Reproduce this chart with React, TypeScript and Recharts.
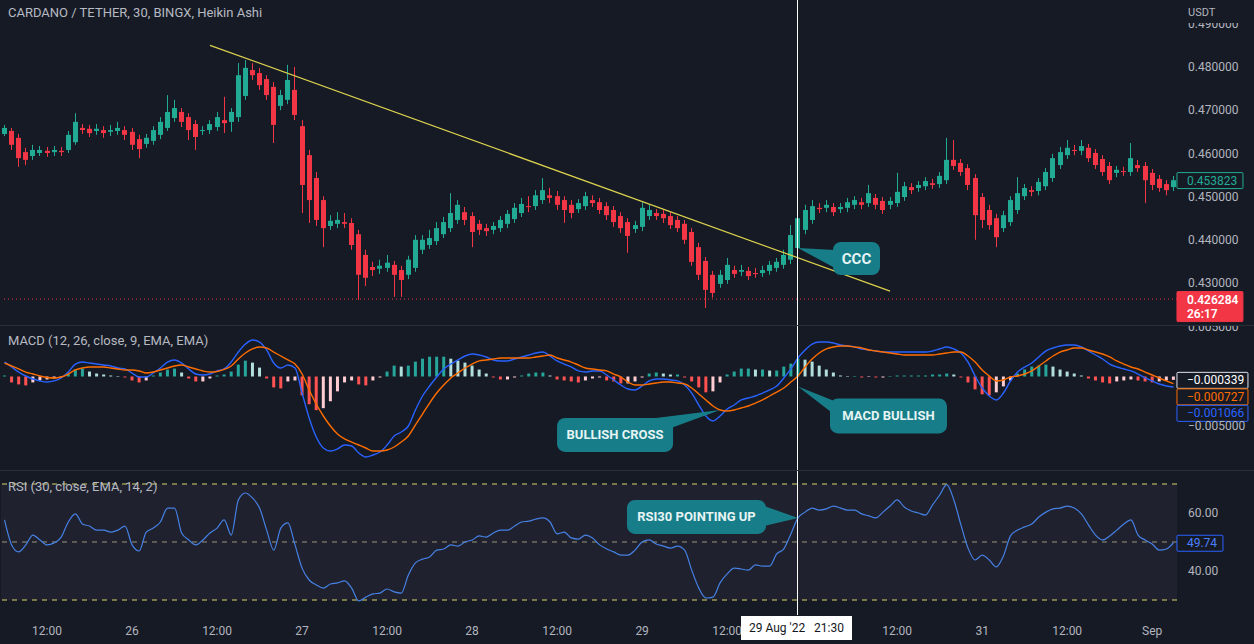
import React from "react";
import {
  Bar,
  Cell,
  ComposedChart,
  Line,
  ReferenceArea,
  ReferenceDot,
  ReferenceLine,
  XAxis,
  YAxis,
} from "recharts";

// hourly Heikin Ashi candles, first one is 18h before 26 Aug 00:00
const firstHour = -18;

const haOpen = [
  0.4645, 0.4652, 0.4636, 0.4603, 0.4594, 0.4601, 0.4606, 0.4603, 0.4606, 0.4608, 0.4626, 0.4659, 0.4657, 0.4652, 0.4654, 0.4650, 0.4652, 0.4654,
  0.4650, 0.4633, 0.4622, 0.4629, 0.4643, 0.4659, 0.4682, 0.4696, 0.4684, 0.4668, 0.4652, 0.4654, 0.4661, 0.4677, 0.4673, 0.4684, 0.4733, 0.4793, 0.4786, 0.4772, 0.4754, 0.4710, 0.4724, 0.4747,
  0.4663, 0.4596, 0.4543, 0.4492, 0.4432, 0.4437, 0.4441, 0.4439, 0.4413, 0.4365, 0.4337, 0.4333, 0.4335, 0.4342, 0.4330, 0.4319, 0.4335, 0.4377, 0.4388, 0.4397, 0.4413, 0.4427, 0.4446, 0.4464,
  0.4455, 0.4437, 0.4427, 0.4423, 0.4427, 0.4437, 0.4448, 0.4462, 0.4478, 0.4478, 0.4492, 0.4503, 0.4501, 0.4492, 0.4481, 0.4471, 0.4478, 0.4492, 0.4487, 0.4478, 0.4469, 0.4455, 0.4441, 0.4425,
  0.4430, 0.4455, 0.4462, 0.4460, 0.4455, 0.4446, 0.4437, 0.4418, 0.4383, 0.4351, 0.4319, 0.4298, 0.4307, 0.4330, 0.4326, 0.4328, 0.4323, 0.4323, 0.4328, 0.4335, 0.4342, 0.4354, 0.4381, 0.4423,
  0.4446, 0.4474, 0.4474, 0.4476, 0.4471, 0.4474, 0.4481, 0.4487, 0.4485, 0.4497, 0.4490, 0.4481, 0.4485, 0.4499, 0.4522, 0.4520, 0.4524, 0.4531, 0.4529, 0.4538, 0.4585, 0.4578, 0.4566, 0.4543,
  0.4499, 0.4469, 0.4450, 0.4427, 0.4441, 0.4469, 0.4501, 0.4515, 0.4513, 0.4524, 0.4543, 0.4573, 0.4596, 0.4608, 0.4606, 0.4613, 0.4601, 0.4587, 0.4571, 0.4555, 0.4559, 0.4557, 0.4573, 0.4571,
  0.4555, 0.4541, 0.4529, 0.4522,
];
const haHigh = [
  0.4666, 0.4659, 0.4645, 0.4613, 0.4620, 0.4617, 0.4615, 0.4617, 0.4615, 0.4652, 0.4693, 0.4668, 0.4666, 0.4668, 0.4663, 0.4666, 0.4673, 0.4663,
  0.4659, 0.4643, 0.4645, 0.4663, 0.4684, 0.4735, 0.4724, 0.4705, 0.4693, 0.4677, 0.4663, 0.4677, 0.4696, 0.4731, 0.4705, 0.4809, 0.4816, 0.4809, 0.4798, 0.4781, 0.4765, 0.4747, 0.4805, 0.4800,
  0.4677, 0.4608, 0.4557, 0.4501, 0.4457, 0.4464, 0.4462, 0.4450, 0.4423, 0.4377, 0.4349, 0.4354, 0.4365, 0.4351, 0.4340, 0.4363, 0.4411, 0.4411, 0.4423, 0.4441, 0.4453, 0.4508, 0.4492, 0.4476,
  0.4464, 0.4446, 0.4437, 0.4441, 0.4455, 0.4469, 0.4485, 0.4497, 0.4501, 0.4515, 0.4543, 0.4520, 0.4513, 0.4501, 0.4492, 0.4494, 0.4511, 0.4503, 0.4497, 0.4487, 0.4478, 0.4464, 0.4450, 0.4444,
  0.4487, 0.4481, 0.4471, 0.4469, 0.4464, 0.4455, 0.4446, 0.4427, 0.4393, 0.4360, 0.4328, 0.4330, 0.4358, 0.4340, 0.4342, 0.4337, 0.4335, 0.4340, 0.4351, 0.4358, 0.4377, 0.4434, 0.4487, 0.4481,
  0.4492, 0.4485, 0.4492, 0.4485, 0.4485, 0.4497, 0.4501, 0.4497, 0.4527, 0.4506, 0.4499, 0.4499, 0.4555, 0.4534, 0.4531, 0.4536, 0.4545, 0.4541, 0.4557, 0.4636, 0.4631, 0.4587, 0.4575, 0.4552,
  0.4508, 0.4481, 0.4460, 0.4467, 0.4501, 0.4545, 0.4529, 0.4524, 0.4543, 0.4566, 0.4599, 0.4615, 0.4631, 0.4620, 0.4631, 0.4622, 0.4610, 0.4596, 0.4580, 0.4571, 0.4569, 0.4624, 0.4585, 0.4580,
  0.4564, 0.4550, 0.4538, 0.4548,
];
const haLow = [
  0.4640, 0.4608, 0.4569, 0.4573, 0.4585, 0.4594, 0.4592, 0.4594, 0.4594, 0.4601, 0.4620, 0.4645, 0.4638, 0.4643, 0.4636, 0.4640, 0.4643, 0.4631,
  0.4608, 0.4589, 0.4613, 0.4620, 0.4633, 0.4652, 0.4673, 0.4661, 0.4631, 0.4608, 0.4643, 0.4645, 0.4652, 0.4647, 0.4650, 0.4673, 0.4724, 0.4770, 0.4747, 0.4724, 0.4624, 0.4700, 0.4714, 0.4677,
  0.4462, 0.4439, 0.4432, 0.4383, 0.4423, 0.4427, 0.4427, 0.4377, 0.4261, 0.4293, 0.4316, 0.4321, 0.4326, 0.4268, 0.4268, 0.4309, 0.4326, 0.4367, 0.4379, 0.4388, 0.4404, 0.4418, 0.4437, 0.4434,
  0.4383, 0.4411, 0.4409, 0.4413, 0.4418, 0.4427, 0.4439, 0.4453, 0.4464, 0.4469, 0.4483, 0.4485, 0.4469, 0.4439, 0.4450, 0.4462, 0.4469, 0.4476, 0.4460, 0.4446, 0.4430, 0.4416, 0.4370, 0.4416,
  0.4420, 0.4446, 0.4446, 0.4439, 0.4425, 0.4418, 0.4390, 0.4340, 0.4307, 0.4242, 0.4266, 0.4289, 0.4298, 0.4312, 0.4316, 0.4307, 0.4312, 0.4314, 0.4319, 0.4326, 0.4333, 0.4344, 0.4372, 0.4413,
  0.4437, 0.4462, 0.4464, 0.4455, 0.4462, 0.4464, 0.4471, 0.4471, 0.4476, 0.4471, 0.4460, 0.4471, 0.4476, 0.4490, 0.4506, 0.4511, 0.4515, 0.4518, 0.4520, 0.4529, 0.4562, 0.4548, 0.4515, 0.4400,
  0.4427, 0.4423, 0.4383, 0.4418, 0.4432, 0.4460, 0.4492, 0.4501, 0.4503, 0.4515, 0.4534, 0.4564, 0.4587, 0.4596, 0.4596, 0.4580, 0.4564, 0.4548, 0.4529, 0.4545, 0.4548, 0.4548, 0.4557, 0.4485,
  0.4515, 0.4511, 0.4503, 0.4513,
];
const haClose = [
  0.4659, 0.4620, 0.4589, 0.4585, 0.4608, 0.4608, 0.4601, 0.4608, 0.4603, 0.4643, 0.4673, 0.4654, 0.4647, 0.4657, 0.4647, 0.4654, 0.4659, 0.4643,
  0.4620, 0.4610, 0.4636, 0.4654, 0.4673, 0.4696, 0.4705, 0.4673, 0.4654, 0.4638, 0.4654, 0.4668, 0.4684, 0.4670, 0.4696, 0.4781, 0.4798, 0.4781, 0.4758, 0.4735, 0.4666, 0.4735, 0.4770, 0.4689,
  0.4527, 0.4492, 0.4446, 0.4427, 0.4444, 0.4446, 0.4437, 0.4388, 0.4319, 0.4312, 0.4330, 0.4340, 0.4347, 0.4319, 0.4307, 0.4354, 0.4400, 0.4400, 0.4404, 0.4427, 0.4441, 0.4462, 0.4481, 0.4446,
  0.4418, 0.4423, 0.4420, 0.4432, 0.4446, 0.4460, 0.4474, 0.4483, 0.4476, 0.4503, 0.4515, 0.4497, 0.4481, 0.4469, 0.4462, 0.4485, 0.4501, 0.4485, 0.4469, 0.4457, 0.4441, 0.4427, 0.4409, 0.4434,
  0.4474, 0.4469, 0.4455, 0.4450, 0.4434, 0.4427, 0.4400, 0.4349, 0.4319, 0.4284, 0.4277, 0.4319, 0.4342, 0.4321, 0.4330, 0.4316, 0.4321, 0.4330, 0.4342, 0.4349, 0.4365, 0.4411, 0.4450, 0.4469,
  0.4478, 0.4471, 0.4481, 0.4464, 0.4476, 0.4487, 0.4492, 0.4481, 0.4508, 0.4481, 0.4469, 0.4490, 0.4511, 0.4524, 0.4515, 0.4527, 0.4536, 0.4527, 0.4548, 0.4585, 0.4571, 0.4557, 0.4527, 0.4457,
  0.4446, 0.4434, 0.4406, 0.4457, 0.4492, 0.4508, 0.4520, 0.4511, 0.4534, 0.4557, 0.4589, 0.4603, 0.4613, 0.4606, 0.4617, 0.4589, 0.4573, 0.4557, 0.4538, 0.4562, 0.4557, 0.4589, 0.4566, 0.4538,
  0.4527, 0.4520, 0.4515, 0.4538,
];

// MACD pane, values in units of 0.0001
const macdLine = [
  14.6, 9.6, 4.5, 0.5, -2.5, -4.5, -5.6, -4.5, -1.5, 4.5, 12.6, 14.6, 13.6, 12.6, 11.6, 10.6, 8.6, 7.6,
  3.5, -0.5, -0.5, 3.5, 8.6, 14.6, 16.7, 13.6, 7.6, 2.5, 1.5, 2.5, 5.6, 7.6, 14.6, 24.7, 32.8, 36.9, 34.8, 26.8, 13.6, 8.6, 11.6, 8.6,
  -16.7, -41.9, -61.1, -72.2, -75.3, -73.2, -69.2, -70.2, -77.3, -81.3, -79.3, -76.3, -69.2, -60.1, -56.1, -50.0, -33.8, -19.7, -9.6, -0.5, 7.6, 12.6, 16.7, 20.7,
  22.7, 21.7, 19.7, 16.7, 15.7, 15.7, 17.7, 19.7, 21.7, 23.7, 24.7, 20.7, 15.7, 12.6, 9.6, 5.6, 4.5, 5.6, 5.6, 1.5, -3.5, -8.6, -12.6, -13.6,
  -9.6, -4.5, -2.5, -2.5, -3.5, -4.5, -8.6, -16.7, -28.8, -39.9, -44.9, -39.9, -32.8, -28.8, -23.7, -21.7, -19.7, -16.7, -13.6, -9.6, -1.5, 7.6, 18.7, 26.8,
  32.8, 34.8, 34.8, 33.8, 31.8, 30.8, 29.8, 27.8, 26.8, 25.8, 24.7, 24.7, 24.7, 24.7, 24.7, 24.7, 24.7, 25.8, 27.8, 29.8, 27.8, 23.7, 14.6, 0.5,
  -11.6, -19.7, -23.7, -16.7, -4.5, 4.5, 9.6, 13.6, 19.7, 25.8, 28.8, 30.8, 31.8, 31.8, 29.8, 25.8, 21.7, 17.7, 12.6, 9.6, 7.6, 5.6, 2.5, -1.5,
  -4.5, -7.6, -9.6, -10.66,
];
const signalLine = [
  13.6, 10.6, 7.6, 4.5, 2.5, 0.5, -1.0, -1.5, -0.5, 2.5, 6.6, 8.6, 9.6, 9.6, 9.6, 8.6, 7.6, 6.6,
  6.6, 5.6, 3.5, 4.5, 6.6, 8.6, 10.6, 11.6, 9.6, 7.6, 5.6, 4.5, 5.1, 7.1, 10.6, 17.7, 23.7, 27.8, 29.8, 28.8, 24.7, 20.7, 16.7, 12.6,
  2.5, -13.6, -27.8, -39.9, -50.0, -58.1, -63.1, -66.2, -69.2, -72.2, -75.3, -75.3, -74.2, -71.2, -66.2, -60.1, -48.9, -37.9, -26.8, -16.7, -8.6, -1.5, 3.5, 8.6,
  12.6, 15.7, 16.7, 17.7, 18.7, 18.7, 18.7, 18.7, 18.7, 19.7, 20.7, 21.7, 18.7, 16.7, 14.6, 11.6, 8.6, 7.6, 6.6, 5.6, 2.5, -0.5, -5.6, -8.6,
  -8.6, -7.6, -6.6, -5.6, -5.6, -6.6, -7.6, -11.6, -17.7, -23.7, -29.8, -33.8, -34.8, -33.8, -31.8, -29.8, -26.8, -23.7, -19.7, -15.7, -11.6, -5.6, 0.5, 9.6,
  17.7, 23.7, 27.8, 29.8, 30.8, 30.8, 29.8, 28.8, 26.8, 25.8, 24.7, 23.7, 22.7, 21.7, 21.7, 21.7, 21.7, 21.7, 22.7, 23.7, 24.7, 24.7, 20.7, 14.6,
  6.6, 0.5, -4.5, -3.5, -0.5, 0.5, 2.5, 5.6, 10.6, 15.7, 20.7, 24.7, 26.8, 28.8, 28.8, 26.8, 24.7, 22.7, 19.7, 15.7, 12.6, 9.6, 7.6, 4.5,
  1.5, -1.5, -4.5, -7.27,
];
const macdHist = [
  1, -6, -8, -9, -6, -4, -3, -2, -1, 3, 7, 8, 5, 3, 2, 1, 0.5, -1,
  -4, -6, -4, 1, 4, 7, 8, 4, -2, -5, -5, -2, 1, 2, 5, 12, 16, 14, 9, -2, -11, -12, -5, -4,
  -19, -28, -34, -32, -25, -15, -6, -4, -8, -9, -4, -1, 5, 11, 10, 11, 15, 18, 20, 20, 20, 18, 16, 14,
  11, 7, 3, -1, -3, -3, -1, 1, 3, 4, 4, 1, -3, -4, -5, -6, -4, -2, -1, -4, -5, -7, -7, -5,
  -1, 3, 4, 3, 2, 2, -1, -5, -11, -16, -15, -6, 2, 5, 8, 8, 7, 7, 6, 6, 10, 13, 18, 17,
  15, 11, 7, 4, 1, 0.5, 0.5, -1, -0.5, -1, -1, 0.5, 1, 1, 1, 1, 1, 2, 2, 3, 2, -1, -6, -13,
  -18, -19, -16, -10, -4, 3, 7, 10, 11, 12, 10, 7, 5, 3, 1, -2, -4, -6, -7, -5, -4, -3, -4, -5,
  -6, -5, -4, -3.39,
];

const rsiLine = [
  57.6, 49.0, 46.6, 49.0, 52.4, 50.7, 49.0, 49.7, 51.7, 56.9, 59.7, 56.2, 55.5, 54.1, 54.1, 53.4, 54.1, 55.5,
  49.0, 46.9, 53.4, 54.8, 56.9, 61.7, 61.7, 53.1, 50.7, 49.0, 50.7, 53.1, 54.8, 57.6, 52.4, 64.5, 66.9, 65.2, 61.7, 54.1, 47.2, 54.8, 56.6, 49.0,
  41.0, 36.9, 35.2, 34.1, 35.5, 35.9, 36.6, 34.1, 29.7, 31.0, 32.1, 32.4, 33.8, 32.8, 32.4, 38.6, 42.8, 44.1, 44.8, 47.2, 47.6, 49.0, 48.6, 50.0,
  50.7, 52.1, 51.7, 53.1, 54.1, 54.1, 55.5, 56.9, 57.2, 57.9, 58.3, 56.9, 52.8, 53.4, 51.4, 51.0, 52.4, 51.4, 49.0, 47.6, 46.6, 45.5, 45.5, 47.2,
  50.0, 50.7, 49.3, 48.6, 47.9, 48.6, 47.2, 40.3, 34.1, 30.7, 31.0, 35.9, 39.0, 41.0, 40.7, 40.3, 42.1, 41.7, 41.7, 45.9, 47.6, 52.8, 58.3, 60.3,
  61.7, 61.0, 61.4, 62.4, 61.7, 61.0, 61.0, 59.7, 59.0, 58.3, 60.3, 62.4, 64.5, 62.1, 60.7, 60.0, 59.3, 62.8, 66.2, 69.8, 64.5, 55.9, 47.9, 43.8,
  45.5, 43.8, 41.4, 45.2, 52.1, 54.1, 55.2, 56.2, 58.6, 60.3, 61.4, 61.7, 62.4, 61.7, 59.7, 55.9, 52.4, 50.7, 52.1, 54.1, 56.2, 57.6, 52.4, 50.7,
  49.3, 47.2, 47.6, 49.74,
];

// the "30" day label sits under the crosshair date box, so it is left out
const timeTickHours = [-12, 0, 12, 24, 36, 48, 60, 72, 84, 108, 120, 132, 144];
const timeTickLabels = ["12:00", "26", "12:00", "27", "12:00", "28", "12:00", "29", "12:00", "12:00", "31", "12:00", "Sep"];
const priceTicks = [0.43, 0.44, 0.45, 0.46, 0.47, 0.48, 0.49];
const macdTicks = [-0.005, 0.005];
const rsiTicks = [40, 60];
const rsiLevels = [70, 50, 30];

const lastPrice = 0.453823;
const markPrice = 0.426284;
const countdown = "26:17";
const crosshairHour = 94;
const crosshairLabel = "29 Aug '22   21:30";
const trendStart = { h: 11, price: 0.48502 };
const trendEnd = { h: 107, price: 0.42813 };
const crossHour = 83;

const BG = "#161a25";
const AXIS_TEXT = "#b2b5be";
const GREEN = "#22ab94";
const RED = "#f23645";
const MACD_BLUE = "#2962ff";
const SIGNAL_ORANGE = "#ff6d00";
const RSI_BLUE = "#4680e4";
const CALLOUT = "#177e89";
const FONT = "Roboto, 'Open Sans', sans-serif";
const WIDTH = 1254;
const AXIS_W = 77;
const MARGIN = { top: 0, right: 0, bottom: 0, left: 1 };

const priceRows = haOpen.map((open, i) => ({
  h: firstHour + i,
  open,
  high: haHigh[i],
  low: haLow[i],
  close: haClose[i],
  range: [haLow[i], haHigh[i]],
}));
const macdRows = macdLine.map((m, i) => ({
  h: firstHour + i,
  macd: m / 1e4,
  signal: signalLine[i] / 1e4,
  hist: macdHist[i] / 1e4,
}));
const rsiRows = rsiLine.map((v, i) => ({ h: firstHour + i, rsi: v }));

const last = (arr: number[]) => arr[arr.length - 1];
const lastHour = firstHour + haOpen.length - 1;
const signed = (v: number, d: number) => (v < 0 ? "\u2212" : "") + Math.abs(v).toFixed(d);

const histColor = (i: number) => {
  const v = macdHist[i];
  const prev = i > 0 ? macdHist[i - 1] : v;
  if (v >= 0) return v >= prev ? "#26a69a" : "#b2dfdb";
  return v >= prev ? "#ffcdd2" : "#ff5252";
};

const Candle = (props: any) => {
  const { x, y, width, height, payload } = props;
  const { open, close, high, low } = payload;
  const color = close >= open ? GREEN : RED;
  const k = height / Math.max(high - low, 1e-9);
  const top = y + (high - Math.max(open, close)) * k;
  const body = Math.max(1, Math.abs(close - open) * k);
  const mid = Math.floor(x + width / 2) + 0.5;
  return (
    <g>
      <line x1={mid} x2={mid} y1={y} y2={y + height} stroke={color} />
      <rect x={Math.round(x)} y={top} width={width} height={body} fill={color} />
    </g>
  );
};

// label box on the price scale
const makeBadge =
  (lines: string[], o: { fill: string; stroke: string; color: string; w: number; dy?: number; bold?: boolean }) =>
  (props: any) => {
    const { cx, cy } = props;
    const x = cx + 3.5;
    const top = cy - 7.5 + (o.dy ?? 0);
    const h = 16 + (lines.length - 1) * 14;
    return (
      <g>
        <rect x={x} y={top} width={o.w} height={h} fill={o.fill} stroke={o.stroke} rx={1} />
        {lines.map((t, i) => (
          <text
            key={i}
            x={x + 10}
            y={top + 8 + i * 14}
            dominantBaseline="central"
            fill={o.color}
            fontSize={12}
            fontWeight={o.bold ? 600 : 400}
            fontFamily={FONT}
          >
            {t}
          </text>
        ))}
      </g>
    );
  };

// teal note with a pointer, tip sits on the anchor point
const makeCallout =
  (text: string, box: number[], base: number[], size = 13) =>
  (props: any) => {
    const { cx, cy } = props;
    const [bx, by, bw, bh] = box;
    const [ax, ay, bx2, by2] = base;
    return (
      <g>
        <polygon points={`${cx},${cy} ${cx + ax},${cy + ay} ${cx + bx2},${cy + by2}`} fill={CALLOUT} />
        <rect x={cx + bx} y={cy + by} width={bw} height={bh} rx={8} fill={CALLOUT} />
        <text
          x={cx + bx + bw / 2}
          y={cy + by + bh / 2}
          textAnchor="middle"
          dominantBaseline="central"
          fill="#e6f4f4"
          fontSize={size}
          fontWeight={700}
          fontFamily={FONT}
        >
          {text}
        </text>
      </g>
    );
  };

const yAxisProps = {
  orientation: "right" as const,
  width: AXIS_W,
  axisLine: false,
  tickLine: false,
  tickMargin: 5,
  interval: 0,
  allowDataOverflow: true,
  tick: { fill: AXIS_TEXT, fontSize: 12, fontFamily: FONT },
};

const crosshairProps = {
  x: crosshairHour,
  stroke: "#ffffff",
  shapeRendering: "crispEdges",
};

const paneTitle = (top: number): React.CSSProperties => ({
  position: "absolute",
  left: 8,
  top,
  color: "#b7bac2",
  fontSize: 13,
  lineHeight: "16px",
  whiteSpace: "nowrap",
});

export default function App() {
  return (
    <div
      style={{
        position: "absolute",
        left: 0,
        top: 0,
        width: WIDTH,
        height: 644,
        background: BG,
        overflow: "hidden",
        fontFamily: FONT,
      }}
    >
      <div style={{ position: "absolute", left: 0, top: 0 }}>
        <ComposedChart width={WIDTH} height={325} data={priceRows} margin={MARGIN}>
          <XAxis dataKey="h" scale="band" hide />
          <YAxis
            {...yAxisProps}
            domain={[0.42028, 0.49551]}
            ticks={priceTicks}
            tickFormatter={(v: number) => v.toFixed(6)}
          />
          <ReferenceLine y={markPrice} stroke={RED} strokeDasharray="1 3" />
          <Bar dataKey="range" shape={Candle} barSize={5} isAnimationActive={false} />
          <ReferenceLine
            segment={[
              { x: trendStart.h, y: trendStart.price },
              { x: trendEnd.h, y: trendEnd.price },
            ]}
            stroke="#dcd24e"
            strokeWidth={1.2}
          />
          <ReferenceLine {...crosshairProps} />
          <ReferenceDot
            x={crosshairHour}
            y={0.4381}
            shape={makeCallout("CCC", [35, -6, 47, 33], [37, 2, 37, 20], 15)}
          />
          <ReferenceDot
            x={lastHour}
            y={lastPrice}
            shape={makeBadge([lastPrice.toFixed(6)], { fill: BG, stroke: GREEN, color: GREEN, w: 66 })}
          />
          <ReferenceDot
            x={lastHour}
            y={markPrice}
            shape={makeBadge([markPrice.toFixed(6), countdown], {
              fill: RED,
              stroke: RED,
              color: "#ffffff",
              w: 66,
              bold: true,
            })}
          />
        </ComposedChart>
      </div>

      <div style={{ position: "absolute", left: 0, top: 325, width: WIDTH, height: 1, background: "#2a2e39" }} />

      <div style={{ position: "absolute", left: 0, top: 326 }}>
        <ComposedChart width={WIDTH} height={144} data={macdRows} margin={MARGIN}>
          <XAxis dataKey="h" scale="band" hide />
          <YAxis
            {...yAxisProps}
            domain={[-0.009444, 0.0051]}
            ticks={macdTicks}
            tickFormatter={(v: number) => signed(v, 6)}
          />
          <Bar dataKey="hist" barSize={3} isAnimationActive={false}>
            {macdRows.map((_, i) => (
              <Cell key={i} fill={histColor(i)} />
            ))}
          </Bar>
          <Line
            type="monotone"
            dataKey="macd"
            stroke={MACD_BLUE}
            strokeWidth={1.4}
            dot={false}
            isAnimationActive={false}
          />
          <Line
            type="monotone"
            dataKey="signal"
            stroke={SIGNAL_ORANGE}
            strokeWidth={1.4}
            dot={false}
            isAnimationActive={false}
          />
          <ReferenceLine {...crosshairProps} />
          <ReferenceDot
            x={crossHour}
            y={signalLine[crossHour - firstHour] / 1e4}
            shape={makeCallout("BULLISH CROSS", [-163, 8, 116, 34], [-80, 10, -49, 18])}
          />
          <ReferenceDot
            x={crosshairHour}
            y={-0.001}
            shape={makeCallout("MACD BULLISH", [32, 12, 117, 35], [35, 14, 35, 27])}
          />
          <ReferenceDot
            x={lastHour}
            y={last(macdHist) / 1e4}
            shape={makeBadge([signed(last(macdHist) / 1e4, 6)], { fill: BG, stroke: "#e0e3eb", color: "#ffffff", w: 71 })}
          />
          <ReferenceDot
            x={lastHour}
            y={last(macdHist) / 1e4}
            shape={makeBadge([signed(last(signalLine) / 1e4, 6)], {
              fill: BG,
              stroke: SIGNAL_ORANGE,
              color: SIGNAL_ORANGE,
              w: 71,
              dy: 16.5,
            })}
          />
          <ReferenceDot
            x={lastHour}
            y={last(macdHist) / 1e4}
            shape={makeBadge([signed(last(macdLine) / 1e4, 6)], {
              fill: BG,
              stroke: MACD_BLUE,
              color: MACD_BLUE,
              w: 71,
              dy: 33,
            })}
          />
        </ComposedChart>
      </div>

      <div style={{ position: "absolute", left: 0, top: 470, width: WIDTH, height: 1, background: "#2a2e39" }} />

      <div style={{ position: "absolute", left: 0, top: 471 }}>
        <ComposedChart width={WIDTH} height={173} data={rsiRows} margin={MARGIN}>
          <XAxis
            dataKey="h"
            scale="band"
            ticks={timeTickHours}
            interval={0}
            tickFormatter={(h: number) => timeTickLabels[timeTickHours.indexOf(h)]}
            axisLine={false}
            tickLine={false}
            height={29}
            tickMargin={5}
            tick={{ fill: AXIS_TEXT, fontSize: 12, fontFamily: FONT }}
          />
          <YAxis
            {...yAxisProps}
            domain={[24.83, 74.48]}
            ticks={rsiTicks}
            tickFormatter={(v: number) => v.toFixed(2)}
          />
          <ReferenceArea y1={rsiLevels[2]} y2={rsiLevels[0]} fill="#1f222e" fillOpacity={1} />
          {rsiLevels.map((lv) => (
            <ReferenceLine
              key={lv}
              y={lv}
              stroke={lv === 50 ? "#9a977c" : "#d8d36a"}
              strokeDasharray="5 5"
            />
          ))}
          <Line
            type="monotone"
            dataKey="rsi"
            stroke={RSI_BLUE}
            strokeWidth={1.2}
            dot={false}
            isAnimationActive={false}
          />
          <ReferenceLine {...crosshairProps} />
          <ReferenceDot
            x={crosshairHour}
            y={rsiLine[crosshairHour - firstHour]}
            shape={makeCallout("RSI30 POINTING UP", [-171, -18, 139, 34], [-34, -12, -34, 8])}
          />
          <ReferenceDot
            x={lastHour}
            y={last(rsiLine)}
            shape={makeBadge([last(rsiLine).toFixed(2)], { fill: BG, stroke: MACD_BLUE, color: "#4a80ff", w: 46 })}
          />
        </ComposedChart>
      </div>

      <div style={paneTitle(5)}>CARDANO / TETHER, 30, BINGX, Heikin Ashi</div>
      <div style={paneTitle(333)}>MACD (12, 26, close, 9, EMA, EMA)</div>
      <div style={paneTitle(479)}>RSI (30, close, EMA, 14, 2)</div>
      <div
        style={{
          position: "absolute",
          left: 1178,
          top: 0,
          width: 76,
          height: 23,
          background: BG,
          color: AXIS_TEXT,
          fontSize: 11,
          lineHeight: "26px",
          paddingLeft: 10,
          boxSizing: "border-box",
        }}
      >
        USDT
      </div>
      <div
        style={{
          position: "absolute",
          left: 741,
          top: 616,
          width: 111,
          height: 24,
          background: "#ffffff",
          color: "#131722",
          fontSize: 12,
          lineHeight: "24px",
          textAlign: "center",
          whiteSpace: "pre",
        }}
      >
        {crosshairLabel}
      </div>
    </div>
  );
}
